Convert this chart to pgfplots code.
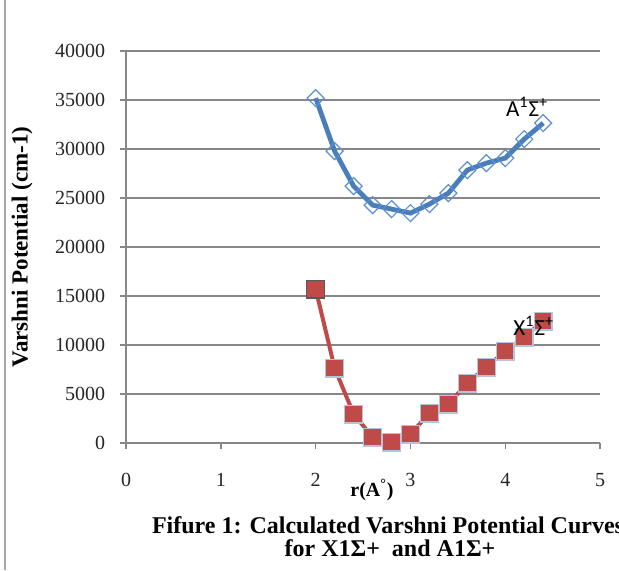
\documentclass[border=0pt]{standalone}
\usepackage{pgfplots}
\pgfplotsset{compat=1.18}
\usepackage{fontspec}
\setmainfont{Liberation Serif}
\newfontfamily\lblfont{Carlito}
\definecolor{serA}{HTML}{4A7EBB}
\definecolor{mkA}{HTML}{5A8FD2}
\definecolor{serX}{HTML}{BE4B48}
\definecolor{mkXedge}{HTML}{B4C4DA}
\definecolor{gridc}{HTML}{878787}

\begin{document}
\begin{tikzpicture}[x=0.5pt,y=0.5pt]
\useasboundingbox (0,0) rectangle (619,570);
\clip (0,0) rectangle (619,570);
\fill[white] (0,0) rectangle (619,570);
\draw[gray!70, line width=0.8pt] (5,0) -- (5,570);
\begin{axis}[
    at={(133,129.5)}, anchor=south west,
    scale only axis,
    width=237pt, height=196pt,
    xmin=0, xmax=5, ymin=0, ymax=40000,
    xtick={0,1,2,3,4,5},
    ytick={0,5000,10000,15000,20000,25000,30000,35000,40000},
    axis lines*=left,
    axis line style={gridc, line width=0.7pt},
    ymajorgrids=true,
    grid style={gridc, line width=0.75pt},
    tick align=outside,
    major tick length=3pt,
    tick style={gridc, line width=0.7pt},
    scaled y ticks=false,
    /pgf/number format/assume math mode=true,
    /pgf/number format/1000 sep={},
    tick label style={font=\fontsize{10}{12}\selectfont, text=black!85},
    yticklabel style={xshift=-4pt},
    xticklabel style={yshift=-8.5pt},
    clip=false,
]
\addplot[serA, line width=2.4pt,
    mark=square, mark size=3pt,
    mark options={draw=mkA, fill=white, line width=0.6pt, rotate=45}] coordinates {
    (2.0,35204) (2.2,29796) (2.4,26224) (2.6,24286) (2.8,23878)
    (3.0,23469) (3.2,24388) (3.4,25510) (3.6,27857) (3.8,28571)
    (4.0,29082) (4.2,31020) (4.4,32653)
};
\addplot[serX, line width=2pt,
    mark=square*, mark size=4.4pt,
    mark options={draw=mkXedge, fill=serX, line width=0.6pt}] coordinates {
    (2.0,15714) (2.2,7653) (2.4,2959) (2.6,612) (2.8,102)
    (3.0,918) (3.2,3061) (3.4,3980) (3.6,6122) (3.8,7755)
    (4.0,9388) (4.2,10816) (4.4,12449)
};
\addplot[only marks, mark=square*, mark size=4.4pt,
    mark options={draw=black!65, fill=serX, line width=0.6pt}] coordinates {(2.0,15714)};
\coordinate (la) at (axis cs:4.23,34300);
\coordinate (lx) at (axis cs:4.3,12000);
\end{axis}
\node[font=\lblfont\fontsize{11.5}{13}\selectfont] at (la)
    {A\textsuperscript{1}Σ\textsuperscript{+}};
\node[font=\lblfont\fontsize{11.5}{13}\selectfont] at (lx)
    {X\textsuperscript{1}Σ\textsuperscript{+}};
\node[font=\bfseries\fontsize{11.5}{13}\selectfont, rotate=90] at (22,323)
    {Varshni Potential (cm-1)};
\node[font=\bfseries\fontsize{10}{12}\selectfont] at (372,80) {r(A\textsuperscript{°})};
\node[font=\bfseries\fontsize{12}{14}\selectfont] at (388,45)
    {Fifure 1: Calculated Varshni Potential Curves};
\node[font=\bfseries\fontsize{12}{14}\selectfont] at (390,22)
    {for X1Σ+\ \ and A1Σ+};
\end{tikzpicture}
\end{document}
